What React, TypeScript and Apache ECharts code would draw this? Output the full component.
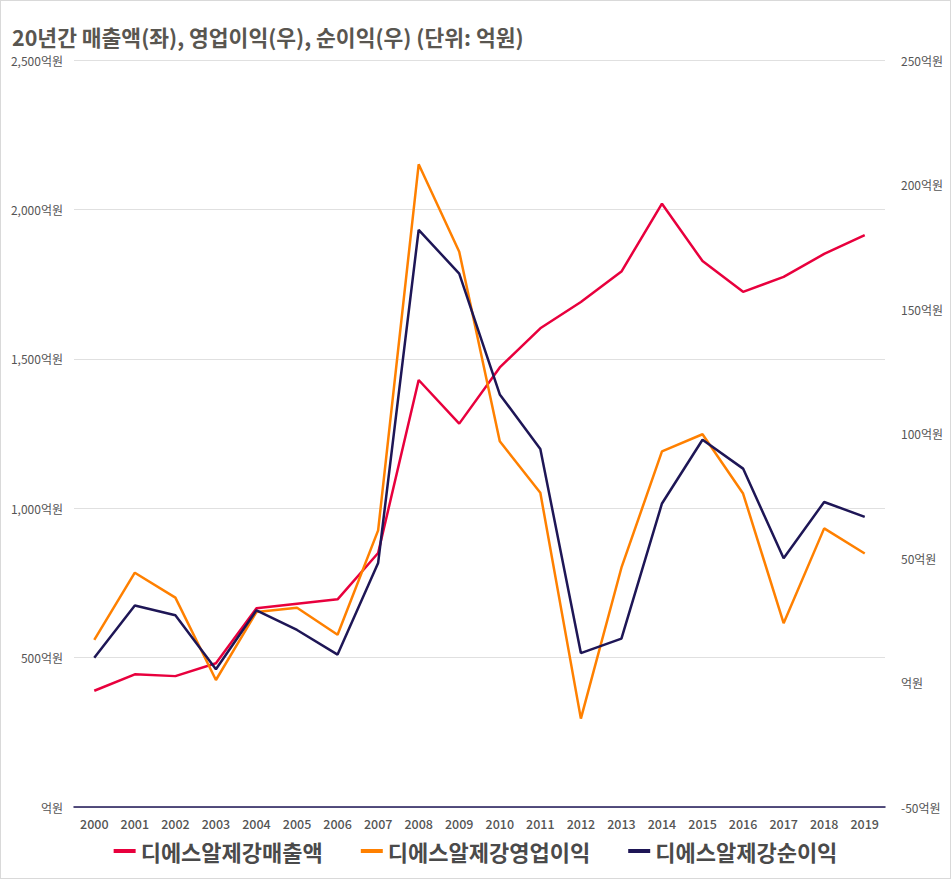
import React, { useRef, useEffect } from "react";
import * as echarts from "echarts";

const years = [
  "2000", "2001", "2002", "2003", "2004", "2005", "2006", "2007", "2008", "2009",
  "2010", "2011", "2012", "2013", "2014", "2015", "2016", "2017", "2018", "2019",
];
// 매출액 (좌축, 억원)
const revenue = [389, 444, 438, 481, 665, 680, 695, 850, 1429, 1283, 1471, 1602, 1690, 1792, 2019, 1827, 1724, 1774, 1851, 1914];
// 영업이익 (우축, 억원)
const operatingProfit = [17.1, 44.1, 34.1, 1, 28.3, 30, 19.2, 61.1, 208.1, 173, 96.9, 76.2, -14.5, 46.1, 92.8, 99.7, 75.9, 23.8, 61.9, 51.8];
// 순이익 (우축, 억원)
const netProfit = [9.9, 30.9, 27, 5.3, 29, 21.1, 11.2, 48, 181.8, 164.2, 115.7, 93.8, 11.8, 17.6, 71.9, 97.5, 85.9, 49.9, 72.5, 66.5];

const seriesNames = ["디에스알제강매출액", "디에스알제강영업이익", "디에스알제강순이익"];
const colors = ["#e8003d", "#ff8000", "#1e1656"];

const FONT = "'Noto Sans CJK KR', 'Noto Sans', sans-serif";

const fmtLeft = (v: number) => (v === 0 ? "억원" : v.toLocaleString("en-US") + "억원");
const fmtRight = (v: number) => (v === 0 ? "억원" : v + "억원");

const App = () => {
  const chartRef = useRef<HTMLDivElement>(null);

  useEffect(() => {
    const chart = echarts.init(chartRef.current, null, { renderer: "svg" });
    chart.setOption({
      animation: false,
      backgroundColor: "#fff",
      textStyle: { fontFamily: FONT },
      title: {
        text: "20년간 매출액(좌), 영업이익(우), 순이익(우) (단위: 억원)",
        left: 6,
        top: 20,
        textStyle: { fontSize: 21.5, fontWeight: "bold", color: "#595650", fontFamily: FONT },
      },
      legend: {
        bottom: 11,
        left: "center",
        icon: "rect",
        itemWidth: 22,
        itemHeight: 4,
        itemGap: 38,
        textStyle: { fontSize: 22, fontWeight: "bold", color: "#4a4a4a", fontFamily: FONT },
        data: seriesNames,
      },
      grid: { left: 73, right: 65, top: 59, bottom: 71 },
      xAxis: {
        type: "category",
        data: years,
        axisTick: { show: false },
        axisLine: { lineStyle: { color: colors[2], width: 1.5 } },
        axisLabel: { color: "#555", fontSize: 12.5, margin: 10, fontWeight: 500, fontFamily: FONT },
      },
      yAxis: [
        {
          type: "value",
          min: 0,
          max: 2500,
          interval: 500,
          axisLine: { show: false },
          axisTick: { show: false },
          splitLine: { lineStyle: { color: "#e0e0e0" } },
          axisLabel: { formatter: fmtLeft, color: "#555", fontSize: 12, margin: 11, fontFamily: FONT },
        },
        {
          type: "value",
          min: -50,
          max: 250,
          interval: 50,
          position: "right",
          axisLine: { show: false },
          axisTick: { show: false },
          splitLine: { show: false },
          axisLabel: { formatter: fmtRight, color: "#555", fontSize: 12, margin: 16, fontFamily: FONT },
        },
      ],
      series: [
        {
          name: seriesNames[0],
          type: "line",
          data: revenue,
          yAxisIndex: 0,
          symbol: "none",
          color: colors[0],
          lineStyle: { width: 2.5, color: colors[0] },
        },
        {
          name: seriesNames[1],
          type: "line",
          data: operatingProfit,
          yAxisIndex: 1,
          symbol: "none",
          color: colors[1],
          lineStyle: { width: 2.5, color: colors[1] },
        },
        {
          name: seriesNames[2],
          type: "line",
          data: netProfit,
          yAxisIndex: 1,
          symbol: "none",
          color: colors[2],
          lineStyle: { width: 2.5, color: colors[2] },
        },
      ],
    });
    return () => {
      chart.dispose();
    };
  }, []);

  return (
    <div
      style={{
        position: "fixed",
        top: 0,
        left: 0,
        width: 951,
        height: 879,
        boxSizing: "border-box",
        border: "1px solid #d9d9d9",
        background: "#fff",
      }}
    >
      <div ref={chartRef} style={{ width: "100%", height: "100%" }} />
    </div>
  );
};

export default App;
